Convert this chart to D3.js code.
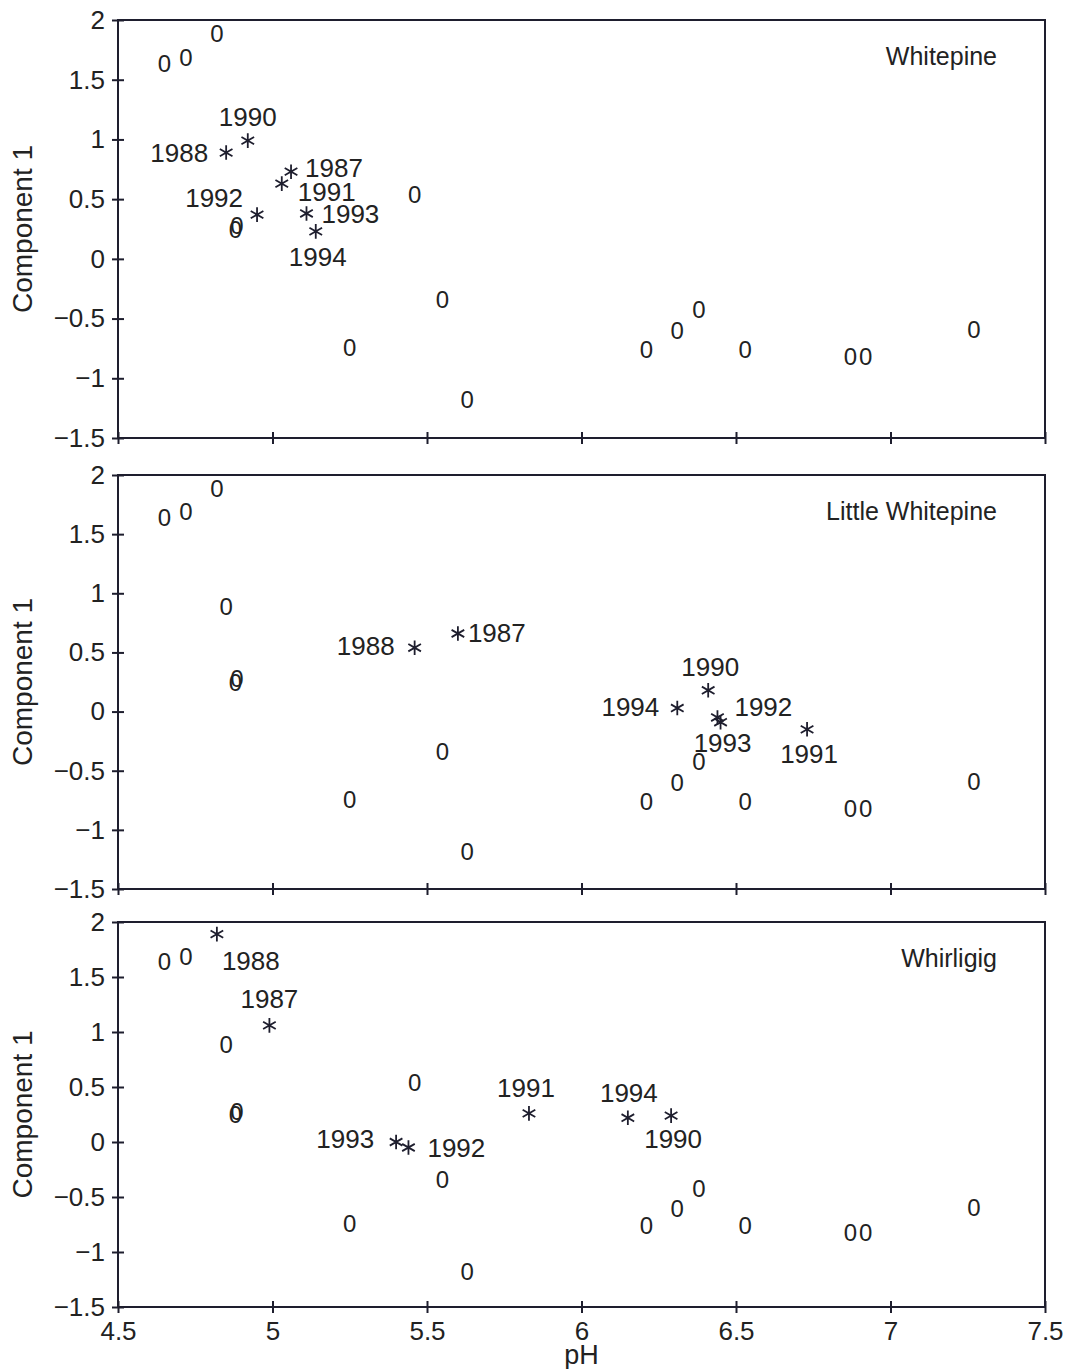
<!DOCTYPE html>
<html>
<head>
<meta charset="utf-8">
<script src="https://cdn.jsdelivr.net/npm/d3@7"></script>
<style>
  body { margin: 0; background: #fff; }
  svg text { font-family: "Liberation Sans", Arial, sans-serif; fill: #222; }
</style>
</head>
<body>
<div id="chart"></div>
<script>
// lakes plotted as "0" (1988 values), besides the three highlighted lakes
const otherLakePH   = [4.65, 4.72, 4.88, 4.885, 5.25, 5.55, 5.63, 6.21, 6.31, 6.38, 6.53, 6.87, 6.92, 7.27];
const otherLakeComp = [1.64, 1.69, 0.25, 0.28, -0.74, -0.34, -1.18, -0.76, -0.60, -0.42, -0.76, -0.82, -0.82, -0.59];

// yearly values of the highlighted lakes
const years = [1987, 1988, 1990, 1991, 1992, 1993, 1994];
const whitepinePH         = [5.06, 4.85, 4.92, 5.03, 4.95, 5.11, 5.14];
const whitepineComp       = [0.73, 0.89, 0.99, 0.63, 0.37, 0.38, 0.23];
const littleWhitepinePH   = [5.60, 5.46, 6.41, 6.73, 6.44, 6.45, 6.31];
const littleWhitepineComp = [0.66, 0.54, 0.18, -0.15, -0.05, -0.09, 0.03];
const whirligigPH         = [4.99, 4.82, 6.29, 5.83, 5.44, 5.40, 6.15];
const whirligigComp       = [1.06, 1.89, 0.24, 0.26, -0.05, 0.00, 0.22];

const lakeNames = ["Whitepine", "Little Whitepine", "Whirligig"];
const lakePH = [whitepinePH, littleWhitepinePH, whirligigPH];
const lakeComp = [whitepineComp, littleWhitepineComp, whirligigComp];

const xTicks = [4.5, 5, 5.5, 6, 6.5, 7, 7.5];
const yTicks = [-1.5, -1, -0.5, 0, 0.5, 1, 1.5, 2];

// layout (pixels)
const width = 1072, height = 1369;
const left = 118, right = 1045;
const panelBoxes = [[20, 438], [475, 889], [922, 1307]];
// label offsets per lake/year: [dx, dy, anchor]
const labelSpots = [
  {1987: [14, -4, "start"], 1988: [-18, 0, "end"], 1990: [0, -24, "middle"], 1991: [16, 8, "start"],
   1992: [-14, -17, "end"], 1993: [15, 0, "start"], 1994: [2, 25, "middle"]},
  {1987: [10, -1, "start"], 1988: [-20, -2, "end"], 1990: [2, -24, "middle"], 1991: [2, 24, "middle"],
   1992: [17, -11, "start"], 1993: [2, 20, "middle"], 1994: [-18, -1, "end"]},
  {1987: [0, -27, "middle"], 1988: [5, 27, "start"], 1990: [2, 23, "middle"], 1991: [-3, -26, "middle"],
   1992: [19, 0, "start"], 1993: [-22, -3, "end"], 1994: [1, -25, "middle"]}
];

const ink = "#1e1e2e";
const fmt = d3.format("~g");

const svg = d3.select("#chart").append("svg")
  .attr("width", width)
  .attr("height", height);

const x = d3.scaleLinear().domain([4.5, 7.5]).range([left, right]);

const star = d3.symbol().type(d3.symbolAsterisk).size(150);

lakeNames.forEach((name, i) => {
  const [top, bottom] = panelBoxes[i];
  const y = d3.scaleLinear().domain([-1.5, 2]).range([bottom, top]);
  const g = svg.append("g");

  // frame
  g.append("rect")
    .attr("x", x(4.5)).attr("y", y(2))
    .attr("width", x(7.5) - x(4.5)).attr("height", y(-1.5) - y(2))
    .attr("fill", "none").attr("stroke", ink).attr("stroke-width", 2);

  // y axis
  const ya = g.append("g")
    .attr("transform", `translate(${x(4.5)},0)`)
    .call(d3.axisLeft(y).tickValues(yTicks).tickFormat(fmt).tickSize(6).tickPadding(7));
  ya.select(".domain").remove();
  ya.selectAll("line").attr("x1", 6).attr("stroke", ink).attr("stroke-width", 2);
  ya.selectAll("text").attr("font-size", 26).attr("fill", "#222")
    .attr("font-family", "Liberation Sans, Arial, sans-serif");

  // x axis
  const xa = g.append("g")
    .attr("transform", `translate(0,${y(-1.5)})`)
    .call(d3.axisBottom(x).tickValues(xTicks).tickFormat(fmt).tickSize(6).tickPadding(9));
  xa.select(".domain").remove();
  xa.selectAll("line").attr("y1", -6).attr("stroke", ink).attr("stroke-width", 2);
  xa.selectAll("text").attr("font-size", 26).attr("fill", "#222")
    .attr("font-family", "Liberation Sans, Arial, sans-serif")
    .style("display", i === lakeNames.length - 1 ? null : "none");

  // y axis title
  g.append("text")
    .attr("transform", `translate(32,${(top + bottom) / 2}) rotate(-90)`)
    .attr("text-anchor", "middle")
    .attr("font-size", 28)
    .text("Component 1");

  // lake name
  g.append("text")
    .attr("x", right - 48).attr("y", top + 36)
    .attr("dy", "0.36em")
    .attr("text-anchor", "end")
    .attr("font-size", 25)
    .text(name);

  // other lakes in 1988 (all except this one)
  const others = otherLakePH.map((p, k) => ({ph: p, c: otherLakeComp[k]}));
  lakeNames.forEach((n, j) => {
    if (j !== i) others.push({ph: lakePH[j][years.indexOf(1988)], c: lakeComp[j][years.indexOf(1988)]});
  });
  g.selectAll("text.zero").data(others).join("text")
    .attr("class", "zero")
    .attr("x", d => x(d.ph)).attr("y", d => y(d.c))
    .attr("dy", "0.36em")
    .attr("text-anchor", "middle")
    .attr("font-size", 24)
    .text("0");

  // yearly values
  const pts = years.map((yr, k) => ({yr, ph: lakePH[i][k], c: lakeComp[i][k]}));
  g.selectAll("path.star").data(pts).join("path")
    .attr("class", "star")
    .attr("transform", d => `translate(${x(d.ph)},${y(d.c)})`)
    .attr("d", star)
    .attr("fill", "none").attr("stroke", ink).attr("stroke-width", 1.8);

  g.selectAll("text.year").data(pts).join("text")
    .attr("class", "year")
    .attr("x", d => x(d.ph) + labelSpots[i][d.yr][0])
    .attr("y", d => y(d.c) + labelSpots[i][d.yr][1])
    .attr("dy", "0.36em")
    .attr("text-anchor", d => labelSpots[i][d.yr][2])
    .attr("font-size", 26)
    .text(d => d.yr);
});

// x axis title
svg.append("text")
  .attr("x", x(6)).attr("y", 1364)
  .attr("text-anchor", "middle")
  .attr("font-size", 27)
  .text("pH");
</script>
</body>
</html>
